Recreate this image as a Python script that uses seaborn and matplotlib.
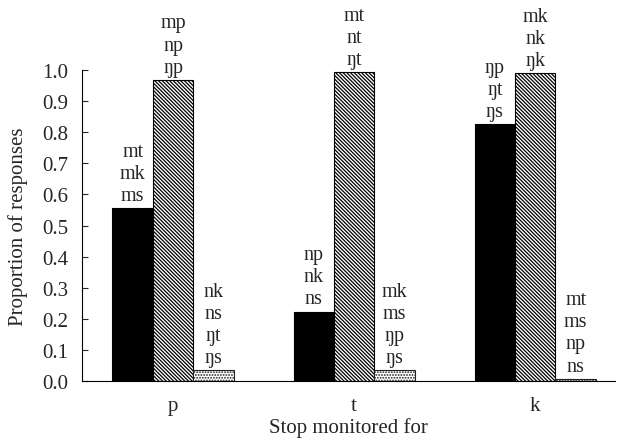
import matplotlib
matplotlib.use("Agg")
import matplotlib.pyplot as plt
import seaborn as sns
import pandas as pd

# Data
stops = ["p", "t", "k"]
series = ["first", "second", "third"]
first_vals = [0.556, 0.223, 0.826]
second_vals = [0.968, 0.993, 0.990]
third_vals = [0.035, 0.035, 0.007]

first_labels = ["mt\nmk\nms", "np\nnk\nns", "ŋp\nŋt\nŋs"]
second_labels = ["mp\nnp\nŋp", "mt\nnt\nŋt", "mk\nnk\nŋk"]
third_labels = ["nk\nns\nŋt\nŋs", "mk\nms\nŋp\nŋs", "mt\nms\nnp\nns"]

df = pd.DataFrame({
    "stop": stops * 3,
    "series": [s for s in series for _ in stops],
    "value": first_vals + second_vals + third_vals,
    "label": first_labels + second_labels + third_labels,
})

sns.set_style("white")
plt.rcParams["font.family"] = ["Liberation Serif", "DejaVu Serif"]
plt.rcParams["hatch.linewidth"] = 0.9

fig = plt.figure(figsize=(6.18, 4.39), dpi=100)
ax = fig.add_axes([0.1327, 0.1298, 0.8623, 0.7085])

sns.barplot(data=df, x="stop", y="value", hue="series", order=stops,
            hue_order=series, width=0.67, palette=["black", "white", "white"],
            edgecolor="black", linewidth=0.8, legend=False, ax=ax)

# style each series: solid, diagonal hatch, stipple
for i, bars in enumerate(ax.containers):
    for bar in bars:
        if i == 1:
            bar.set_hatch("\\" * 9)
        elif i == 2:
            bar.set_hatch("." * 6)
            bar.set_edgecolor("#222222")

# response labels above each bar
for i, bars in enumerate(ax.containers):
    sub = df[df["series"] == series[i]].set_index("stop").loc[stops]
    for bar, txt in zip(bars, sub["label"]):
        ax.annotate(txt, (bar.get_x() + bar.get_width() / 2, bar.get_height()),
                    xytext=(0, 6), textcoords="offset points",
                    ha="center", va="baseline", fontsize=14.5,
                    linespacing=1.22, annotation_clip=False)

ax.set_ylim(0, 1.0)
ax.set_xlim(-0.503, 2.44)
ax.set_yticks([i / 10 for i in range(11)])
ax.set_yticklabels([f"{i / 10:.1f}" for i in range(11)])
ax.tick_params(axis="y", direction="in", length=4, width=0.8, pad=10,
               labelsize=15, left=True)
ax.tick_params(axis="x", length=0, pad=11, labelsize=15)
ax.set_xlabel("Stop monitored for", fontsize=15, labelpad=1)
ax.set_ylabel("Proportion of responses", fontsize=15, labelpad=10)

for side in ["top", "right"]:
    ax.spines[side].set_visible(False)
for side in ["left", "bottom"]:
    ax.spines[side].set_color("black")
    ax.spines[side].set_linewidth(0.8)

fig.savefig("out.png", dpi=100)
